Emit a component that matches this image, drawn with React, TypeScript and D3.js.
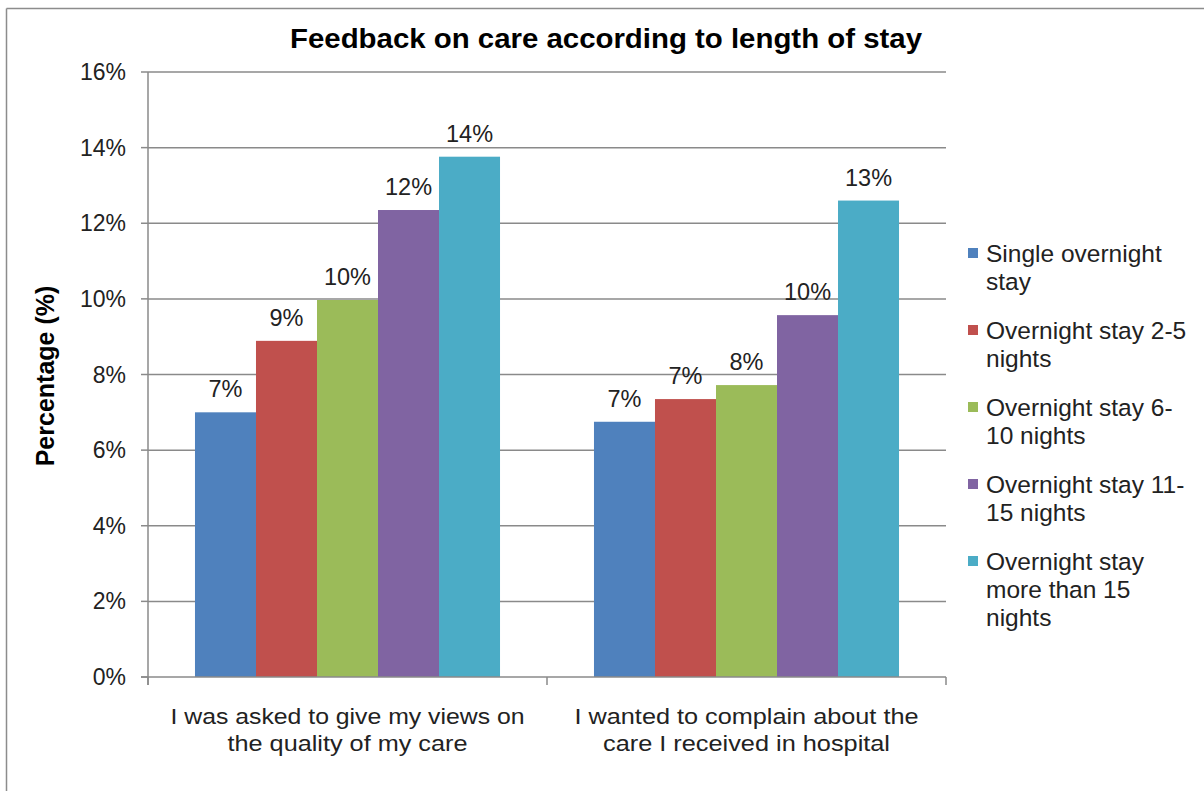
import React from "react";
import * as d3 from "d3";

const categories = [
  ["I was asked to give my views on", "the quality of my care"],
  ["I wanted to complain about the", "care I received in hospital"],
];
const seriesNames = [
  ["Single overnight", "stay"],
  ["Overnight stay 2-5", "nights"],
  ["Overnight stay 6-", "10 nights"],
  ["Overnight stay 11-", "15 nights"],
  ["Overnight stay", "more than 15", "nights"],
];
const seriesColors = ["#4F81BD", "#C0504D", "#9BBB59", "#8064A2", "#4BACC6"];
// values[series][category]
const singleStay = [7.0, 6.75];
const stay2to5 = [8.89, 7.35];
const stay6to10 = [9.97, 7.72];
const stay11to15 = [12.35, 9.57];
const stayOver15 = [13.76, 12.6];
const values = [singleStay, stay2to5, stay6to10, stay11to15, stayOver15];
const yTicks = [0, 2, 4, 6, 8, 10, 12, 14, 16];

const catWidths = [
  [354, 240],
  [344, 287],
];

export default function App() {
  const W = 1204, H = 791;
  const left = 148, right = 946, top = 72, bottom = 677;
  const y = d3.scaleLinear().domain([0, 16]).range([bottom, top]);
  const x0 = d3.scaleBand<number>().domain([0, 1]).range([left, right]).paddingInner(0).paddingOuter(0);
  const x1 = d3.scaleBand<number>().domain([0, 1, 2, 3, 4]).range([0, x0.bandwidth()]).paddingInner(0).paddingOuter(0.77);
  const grid = "#8a8a8a";
  const font = "Liberation Sans, Arial, sans-serif";

  return (
    <svg width={W} height={H} style={{ position: "absolute", left: 0, top: 0, background: "#fff" }} fontFamily={font}>
      <rect x={0} y={0} width={W} height={H} fill="#fff" />
      {/* frame */}
      <line x1={6.5} y1={8.5} x2={W} y2={8.5} stroke="#8c8c8c" strokeWidth={1.5} />
      <line x1={6.5} y1={8.5} x2={6.5} y2={H} stroke="#8c8c8c" strokeWidth={1.5} />

      {/* title */}
      <text x={606} y={48} textAnchor="middle" fontSize={28} fontWeight="bold" fill="#000" textLength={632} lengthAdjust="spacingAndGlyphs">
        Feedback on care according to length of stay
      </text>

      {/* gridlines */}
      {yTicks.map((t) => (
        <g key={t}>
          {t > 0 && <line x1={left} x2={right} y1={y(t)} y2={y(t)} stroke={grid} strokeWidth={1.5} />}
          <line x1={left - 7} x2={left} y1={y(t)} y2={y(t)} stroke={grid} strokeWidth={1.5} />
          <text x={126} y={y(t) + 8} textAnchor="end" fontSize={23} fill="#222">{t}%</text>
        </g>
      ))}

      {/* bars */}
      {values.map((vals, si) =>
        vals.map((v, ci) => {
          const bx = (x0(ci) as number) + (x1(si) as number);
          const bw = x1.bandwidth();
          return (
            <g key={`${si}-${ci}`}>
              <rect x={bx} y={y(v)} width={bw} height={bottom - y(v)} fill={seriesColors[si]} />
              <text x={bx + bw / 2} y={y(v) - 15} textAnchor="middle" fontSize={23.5} fill="#222">
                {Math.round(v)}%
              </text>
            </g>
          );
        })
      )}

      {/* axes */}
      <line x1={left} x2={left} y1={top} y2={bottom + 8} stroke={grid} strokeWidth={1.5} />
      <line x1={left - 7} x2={right} y1={bottom} y2={bottom} stroke={grid} strokeWidth={1.5} />
      {[0, 1, 2].map((i) => {
        const xx = left + i * x0.bandwidth();
        return <line key={i} x1={xx} x2={xx} y1={bottom} y2={bottom + 8} stroke={grid} strokeWidth={1.5} />;
      })}

      {/* category labels */}
      {categories.map((lines, ci) => {
        const cx = (x0(ci) as number) + x0.bandwidth() / 2;
        return lines.map((ln, li) => (
          <text key={`${ci}-${li}`} x={cx} y={724 + li * 27} textAnchor="middle" fontSize={22} fill="#222"
            textLength={catWidths[ci][li]} lengthAdjust="spacingAndGlyphs">
            {ln}
          </text>
        ));
      })}

      {/* y title */}
      <text transform="translate(54,376) rotate(-90)" textAnchor="middle" fontSize={25} fontWeight="bold" fill="#000">
        Percentage (%)
      </text>

      {/* legend */}
      {seriesNames.map((lines, si) => {
        const by = 262 + si * 77;
        return (
          <g key={si}>
            <rect x={968} y={by - 14} width={10} height={10} fill={seriesColors[si]} />
            {lines.map((ln, li) => (
              <text key={li} x={986} y={by + li * 28} fontSize={24.5} fill="#222">{ln}</text>
            ))}
          </g>
        );
      })}
    </svg>
  );
}
